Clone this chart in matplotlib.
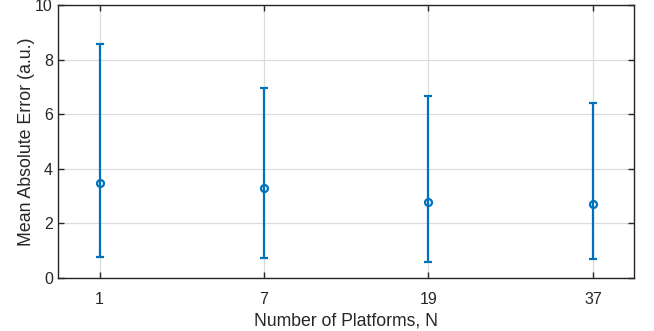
import matplotlib
matplotlib.use("Agg")
import matplotlib.pyplot as plt
import numpy as np

plt.rcParams['font.family'] = ['Liberation Sans', 'DejaVu Sans']

# Data
platform_labels = ["1", "7", "19", "37"]
mae_mean = [3.49, 3.28, 2.77, 2.72]
mae_upper = [8.59, 6.96, 6.68, 6.41]
mae_lower = [0.77, 0.71, 0.59, 0.69]

x = np.arange(1, len(platform_labels) + 1)
mean = np.array(mae_mean)
yerr = np.vstack([mean - np.array(mae_lower), np.array(mae_upper) - mean])

fig = plt.figure(figsize=(6.54, 3.31), dpi=100)
ax = fig.add_axes([0.0894, 0.161, 0.88, 0.8224])

dark = '#262626'
blue = '#0072BD'

ax.errorbar(x, mean, yerr=yerr, fmt='o', color=blue, ecolor=blue,
            elinewidth=1.6, capsize=3, capthick=1.6,
            markersize=5, markerfacecolor='none', markeredgewidth=1.6, zorder=3)

ax.set_xlim(0.75, 4.25)
ax.set_ylim(0, 10)
ax.set_xticks(x)
ax.set_xticklabels(platform_labels)
ax.set_yticks(np.arange(0, 11, 2))

ax.grid(True, color='#dcdcdc', linewidth=0.9)
ax.set_axisbelow(True)

for s in ax.spines.values():
    s.set_color(dark)
    s.set_linewidth(1.0)

ax.tick_params(direction='in', length=4, width=1.0, colors=dark,
               labelcolor=dark, labelsize=11.5, top=True, right=True)
ax.tick_params(axis='x', pad=10)
ax.tick_params(axis='y', pad=4)

ax.set_xlabel('Number of Platforms, N', fontsize=12.7, color=dark, labelpad=4)
ax.set_ylabel('Mean Absolute Error (a.u.)', fontsize=12.8, color=dark, labelpad=0)

fig.savefig('out.png', dpi=100)
